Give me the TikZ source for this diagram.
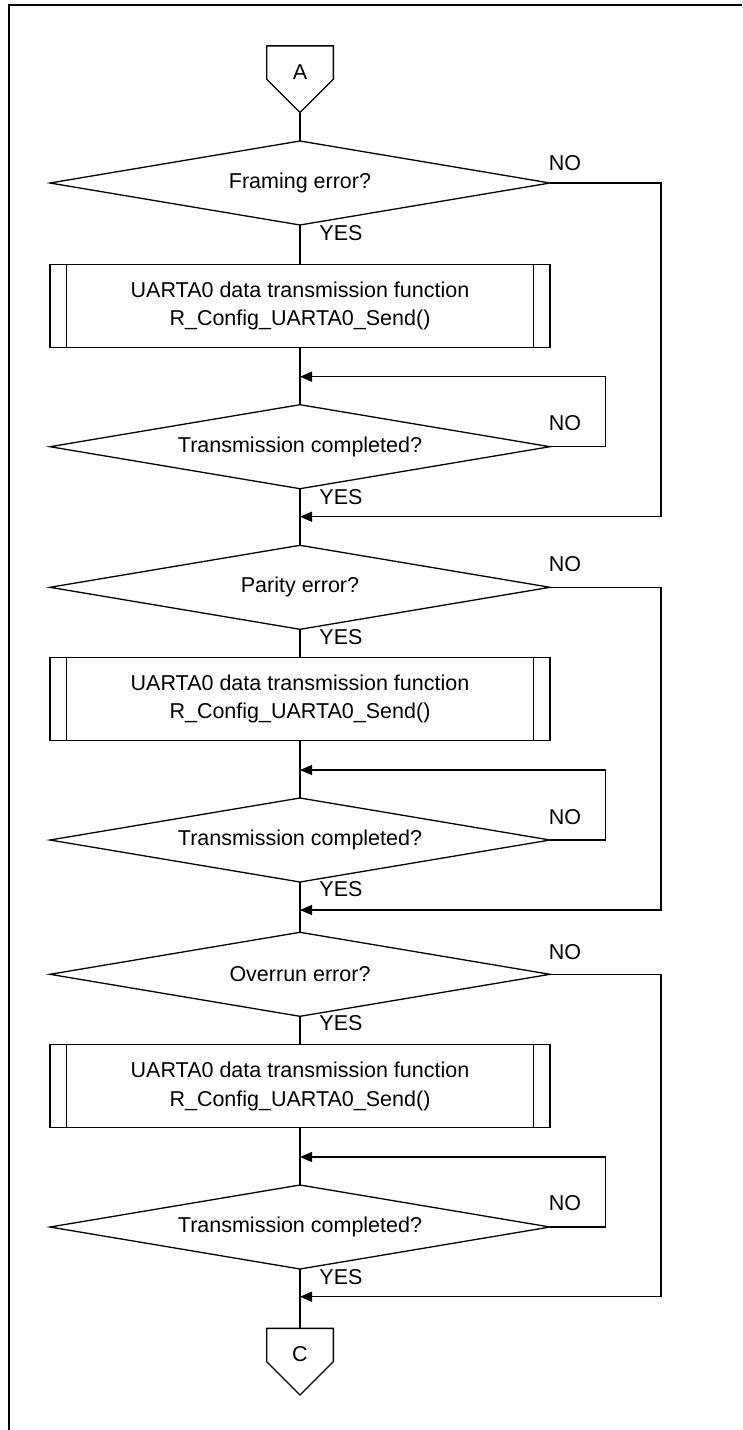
\documentclass[tikz,border=0pt]{standalone}
\usepackage{fontspec}
\setmainfont{Liberation Sans}
\usetikzlibrary{shapes.geometric,arrows.meta}

\tikzset{
  flow/.style={line width=1.3pt},
  arr/.style={flow, -{Triangle[length=12pt,width=10pt]}},
  decision/.style={diamond, draw, flow, shape aspect=6, inner sep=2pt, outer sep=0pt,
    minimum width=500pt, minimum height=84pt},
  subproc/.style={rectangle, draw, flow, inner sep=0pt, outer sep=0pt, align=center,
    minimum width=500pt, minimum height=83pt,
    path picture={
      \draw[flow] ([xshift=16.6pt]path picture bounding box.north west) -- ([xshift=16.6pt]path picture bounding box.south west)
                  ([xshift=-16.6pt]path picture bounding box.north east) -- ([xshift=-16.6pt]path picture bounding box.south east);
    }},
  offpage/.style={rectangle, inner sep=0pt, outer sep=0pt,
    minimum width=66.7pt, minimum height=66.7pt, text height=16pt, text depth=16pt},
  lbl/.style={inner sep=0pt}
}

\begin{document}
\begin{tikzpicture}[x=1pt, y=-1pt, font=\fontsize{21.5}{28.6}\selectfont]
\useasboundingbox (0,0) rectangle (742,1430);

% page frame
\draw[line width=2pt] (742,5) -- (9,5) -- (9,1430);

% start connector
\node[offpage] (A) at (300,79.2) {A};

% framing error check
\node[decision] (d1) at (300,183) {Framing error?};
\node[subproc] (p1) at (300,305.8) {UARTA0 data transmission function\\R\_Config\_UARTA0\_Send()};
\node[decision] (t1) at (300,446.7) {Transmission completed?};

% parity error check
\node[decision] (d2) at (300,587.3) {Parity error?};
\node[subproc] (p2) at (300,698.8) {UARTA0 data transmission function\\R\_Config\_UARTA0\_Send()};
\node[decision] (t2) at (300,840) {Transmission completed?};

% overrun error check
\node[decision] (d3) at (300,974.3) {Overrun error?};
\node[subproc] (p3) at (300,1086.2) {UARTA0 data transmission function\\R\_Config\_UARTA0\_Send()};
\node[decision] (t3) at (300,1227) {Transmission completed?};

% end connector
\node[offpage] (C) at (300,1361.7) {C};

% connector outlines (pentagons pointing down)
\foreach \n in {A,C}
  \draw[flow] (\n.north west) -- (\n.north east) -- (\n.east) -- (\n.south) -- (\n.west) -- cycle;

% branch labels
\node[lbl] (n1) at (565,163) {NO};
\node[lbl] (y1) at (341,233) {YES};
\node[lbl] (n2) at (565,423.3) {NO};
\node[lbl] (y2) at (341,496.7) {YES};
\node[lbl] (n3) at (565,564.3) {NO};
\node[lbl] (y3) at (341,636.7) {YES};
\node[lbl] (n4) at (565,816.7) {NO};
\node[lbl] (y4) at (341,889.3) {YES};
\node[lbl] (n5) at (565,951.7) {NO};
\node[lbl] (y5) at (341,1023.3) {YES};
\node[lbl] (n6) at (565,1203.3) {NO};
\node[lbl] (y6) at (341,1276.7) {YES};

% bend points of the loop-backs and bypasses
\coordinate (r1) at (605.7,376.7);
\coordinate (s1) at (661,516.7);
\coordinate (r2) at (605.7,770);
\coordinate (s2) at (661,910);
\coordinate (r3) at (605.7,1157);
\coordinate (s3) at (661,1296.7);

% main flow
\draw[flow] (A.south) -- (d1.north);
\draw[flow] (d1.south) -- (p1.north);
\draw[flow] (p1.south) -- (t1.north);
\draw[flow] (t1.south) -- (d2.north);
\draw[flow] (d2.south) -- (p2.north);
\draw[flow] (p2.south) -- (t2.north);
\draw[flow] (t2.south) -- (d3.north);
\draw[flow] (d3.south) -- (p3.north);
\draw[flow] (p3.south) -- (t3.north);
\draw[flow] (t3.south) -- (C.north);

% wait loops
\draw[arr] (t1.east) -| (r1) -- (r1 -| t1.north);
\draw[arr] (t2.east) -| (r2) -- (r2 -| t2.north);
\draw[arr] (t3.east) -| (r3) -- (r3 -| t3.north);

% no-error bypasses
\draw[arr] (d1.east) -| (s1) -- (s1 -| t1.south);
\draw[arr] (d2.east) -| (s2) -- (s2 -| t2.south);
\draw[arr] (d3.east) -| (s3) -- (s3 -| t3.south);
\end{tikzpicture}
\end{document}
